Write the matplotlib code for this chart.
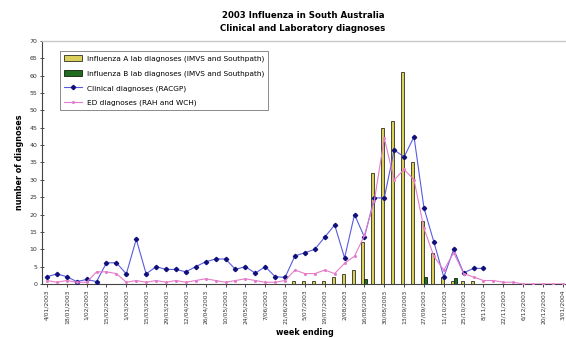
import matplotlib
matplotlib.use("Agg")
import matplotlib.pyplot as plt
import numpy as np
from matplotlib.patches import Patch
from matplotlib.lines import Line2D

plt.rcParams['font.family'] = ['DejaVu Sans']

# Week index (weeks ending Saturday, starting 4 Jan 2003)
weeks = list(range(53))

tick_labels = [
    "4/01/2003", "18/01/2003", "1/02/2003", "15/02/2003", "1/03/2003",
    "15/03/2003", "29/03/2003", "12/04/2003", "26/04/2003", "10/05/2003",
    "24/05/2003", "7/06/2003", "21/06/2003", "5/07/2003", "19/07/2003",
    "2/08/2003", "16/08/2003", "30/08/2003", "13/09/2003", "27/09/2003",
    "11/10/2003", "25/10/2003", "8/11/2003", "22/11/2003", "6/12/2003",
    "20/12/2003", "3/01/2004",
]

flu_a = [0, 0, 0, 0, 0, 0, 0, 0, 0, 0,
         0, 0, 0, 0, 0, 0, 0, 0, 0, 0,
         0, 0, 0, 0, 0, 1, 1, 1, 1, 2,
         3, 4, 12, 32, 45, 47, 61, 35, 18, 9,
         2, 1, 1, 1, 0, 0, 0, 0, 0, 0,
         0, 0, 0]

flu_b = [0, 0, 0, 0, 0, 0, 0, 0, 0, 0,
         0, 0, 0, 0, 0, 0, 0, 0, 0, 0,
         0, 0, 0, 0, 0, 0, 0, 0, 0, 0,
         0, 0, 1.5, 0, 0, 0, 0, 0, 2, 0,
         0, 1.7, 0, 0, 0, 0, 0, 0, 0, 0,
         0, 0, 0]

clinical = [2.1, 2.9, 2.1, 0.7, 1.3, 0.7, 6.1, 6.1, 2.9, 12.9,
            2.9, 5.0, 4.2, 4.2, 3.5, 5.0, 6.4, 7.2, 7.2, 4.2,
            5.0, 3.1, 5.0, 2.1, 1.9, 8.1, 9.0, 10.0, 13.5, 17.0,
            7.5, 20.0, 13.5, 24.8, 24.8, 38.6, 36.6, 42.4, 21.9, 12.1,
            2.0, 10.0, 3.2, 4.5, 4.5, None, None, None, None, None,
            None, None, None]

ed = [1.0, 0.5, 1.0, 0.5, 0.5, 3.5, 3.5, 3.0, 0.5, 1.0,
      0.5, 1.0, 0.5, 1.0, 0.5, 1.0, 1.5, 1.0, 0.5, 1.0,
      1.5, 1.0, 0.5, 0.5, 1.0, 4.0, 3.0, 3.0, 4.0, 3.0,
      6.0, 8.0, 14.0, 24.0, 42.0, 30.0, 33.0, 30.0, 16.0, 8.0,
      4.0, 9.0, 3.0, 2.0, 1.0, 1.0, 0.5, 0.5, 0.0, 0.0,
      0.0, 0.0, 0.0]

series_names = [
    "Influenza A lab diagnoses (IMVS and Southpath)",
    "Influenza B lab diagnoses (IMVS and Southpath)",
    "Clinical diagnoses (RACGP)",
    "ED diagnoses (RAH and WCH)",
]

fig = plt.figure(figsize=(5.66, 3.38), dpi=100)
ax = fig.add_axes([0.0742, 0.1598, 0.929, 0.719])

x = np.array(weeks, dtype=float)
bw = 0.3
col_a = "#d9cf5a"
col_b = "#1f6b1f"
ax.bar(x - bw / 2, flu_a, width=bw, color=col_a, edgecolor="#303020", linewidth=0.6, zorder=2)
ax.bar(x + bw / 2, flu_b, width=bw, color=col_b, edgecolor="#102010", linewidth=0.6, zorder=2)

clin = np.array([np.nan if v is None else v for v in clinical], dtype=float)
ax.plot(x, clin, color="#5a5ae0", lw=0.8, marker="D", ms=2.2,
        mfc="#10107a", mec="#10107a", zorder=3)
ax.plot(x, ed, color="#e47ccc", lw=0.8, marker="o", ms=1.2,
        mfc="#e47ccc", mec="#e47ccc", zorder=3)

ax.set_xlim(-0.5, 52.5)
ax.set_ylim(0, 70)
ax.set_yticks(np.arange(0, 71, 5))
ax.set_xticks(np.arange(0, 53, 2))
ax.set_xticklabels(tick_labels, rotation=90, fontsize=4.3, color="#333333")
ax.tick_params(axis="y", labelsize=4.5, direction="inout", length=3, width=0.6, colors="#333333", pad=2)
ax.tick_params(axis="x", direction="out", length=2, width=0.5, pad=2)

for side in ("left", "bottom"):
    ax.spines[side].set_color("#444444")
    ax.spines[side].set_linewidth(0.8)
ax.spines["right"].set_visible(False)
ax.spines["top"].set_color("#c8c8c8")
ax.spines["top"].set_linewidth(1.0)

ax.set_ylabel("number of diagnoses", fontsize=5.8, fontweight="bold", labelpad=4)
ax.set_xlabel("week ending", fontsize=5.8, fontweight="bold", labelpad=3)

fig.text(0.535, 0.955, "2003 Influenza in South Australia", ha="center", va="center",
         fontsize=6.2, fontweight="bold")
fig.text(0.535, 0.915, "Clinical and Laboratory diagnoses", ha="center", va="center",
         fontsize=6.2, fontweight="bold")

handles = [
    Patch(facecolor=col_a, edgecolor="#303020", linewidth=0.6),
    Patch(facecolor=col_b, edgecolor="#102010", linewidth=0.6),
    Line2D([0], [0], color="#5a5ae0", lw=0.8, marker="D", ms=2.2, mfc="#10107a", mec="#10107a"),
    Line2D([0], [0], color="#e47ccc", lw=0.8, marker="o", ms=1.2),
]
leg = ax.legend(handles, series_names, loc="upper left", bbox_to_anchor=(0.028, 0.975),
                fontsize=5.3, frameon=True, fancybox=False, edgecolor="#555555",
                handlelength=2.4, handleheight=0.9, handletextpad=0.6,
                borderpad=0.55, labelspacing=1.05)
leg.get_frame().set_linewidth(0.6)

fig.savefig("out.png", dpi=100)
